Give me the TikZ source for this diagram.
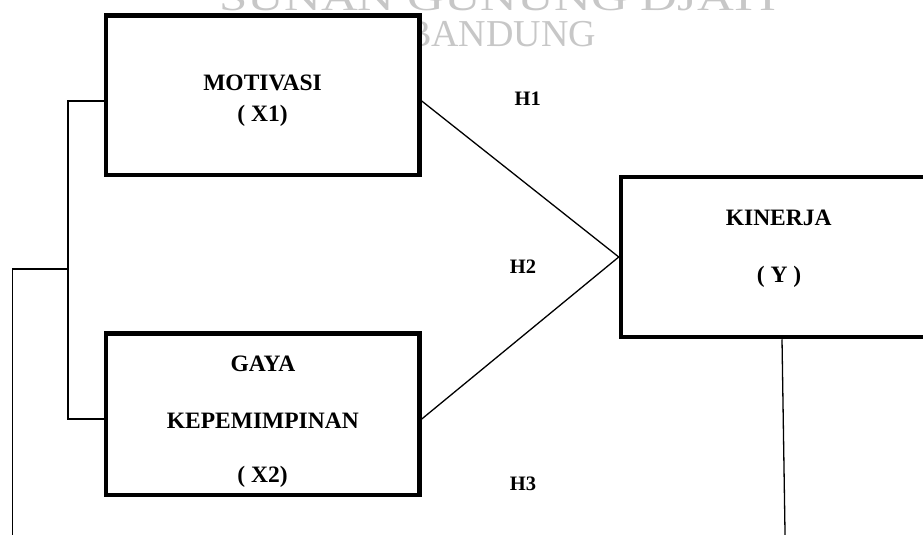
\documentclass[tikz,border=0pt]{standalone}
\usepackage{fontspec}
\setmainfont{Liberation Serif}
\begin{document}
\begin{tikzpicture}[x=1pt,y=-1pt,
  varbox/.style={draw=black, fill=white, line width=4.5pt, rectangle, inner sep=0pt},
  link/.style={draw=black, line width=1.3pt},
  boxtext/.style={anchor=base, inner sep=0pt, font=\fontsize{23.5}{28}\selectfont\bfseries},
  hyp/.style={anchor=base, inner sep=0pt, font=\fontsize{20.5}{24}\selectfont\bfseries},
  wmtext/.style={anchor=base, inner sep=0pt, text=black!22, font=\fontsize{38}{44}\selectfont}]
  \useasboundingbox (0,0) rectangle (923,535);
  \clip (0,0) rectangle (923,535);
  \fill[white] (0,0) rectangle (923,535);

  % background watermark
  \node[wmtext] (wm1) at (498,11) {\scalebox{1.34}[1]{SUNAN GUNUNG DJATI}};
  \node[wmtext] (wm2) at (501,47) {BANDUNG};

  % variable boxes
  \node[varbox, minimum width=313.5pt, minimum height=159.3pt] (mot) at (262.75,95.35) {};
  \node[varbox, minimum width=313.5pt, minimum height=161.5pt] (gaya) at (262.75,414.25) {};
  \node[varbox, minimum width=309pt, minimum height=160pt] (kin) at (775.5,257) {};

  % box labels
  \node[boxtext] (motA) at (262.5,90.5) {MOTIVASI};
  \node[boxtext] (motB) at (262.5,121) {( X1)};
  \node[boxtext] (gayaA) at (263,371) {GAYA};
  \node[boxtext] (gayaB) at (262.8,428) {KEPEMIMPINAN};
  \node[boxtext] (gayaC) at (262.5,482) {( X2)};
  \node[boxtext] (kinA) at (778.7,225) {KINERJA};
  \node[boxtext] (kinB) at (779,282) {( Y )};

  % hypothesis labels
  \node[hyp] (h1) at (527.7,105) {H1};
  \node[hyp] (h2) at (523,273) {H2};
  \node[hyp] (h3) at (523,490) {H3};

  % bracket joining the two independent variables
  \coordinate (jm) at (68,101);
  \coordinate (jg) at (68,419);
  \coordinate (jb) at (68,269);
  \coordinate (lt) at (12.7,269);
  \coordinate (lb) at (12.7,545);
  \draw[link] (mot.west |- jm) -- (jm) -- (jg) -- (gaya.west |- jg);
  \draw[link] (jb) -- (lt) -- (lb);

  % paths into the dependent variable
  \draw[link] (mot.east |- jm) -- (kin.west);
  \draw[link] (gaya.east |- jg) -- (kin.west);

  % line leaving the dependent variable
  \coordinate (kb) at (782,337);
  \coordinate (ke) at (785.2,545);
  \draw[link] (kin.south -| kb) -- (ke);
\end{tikzpicture}
\end{document}
